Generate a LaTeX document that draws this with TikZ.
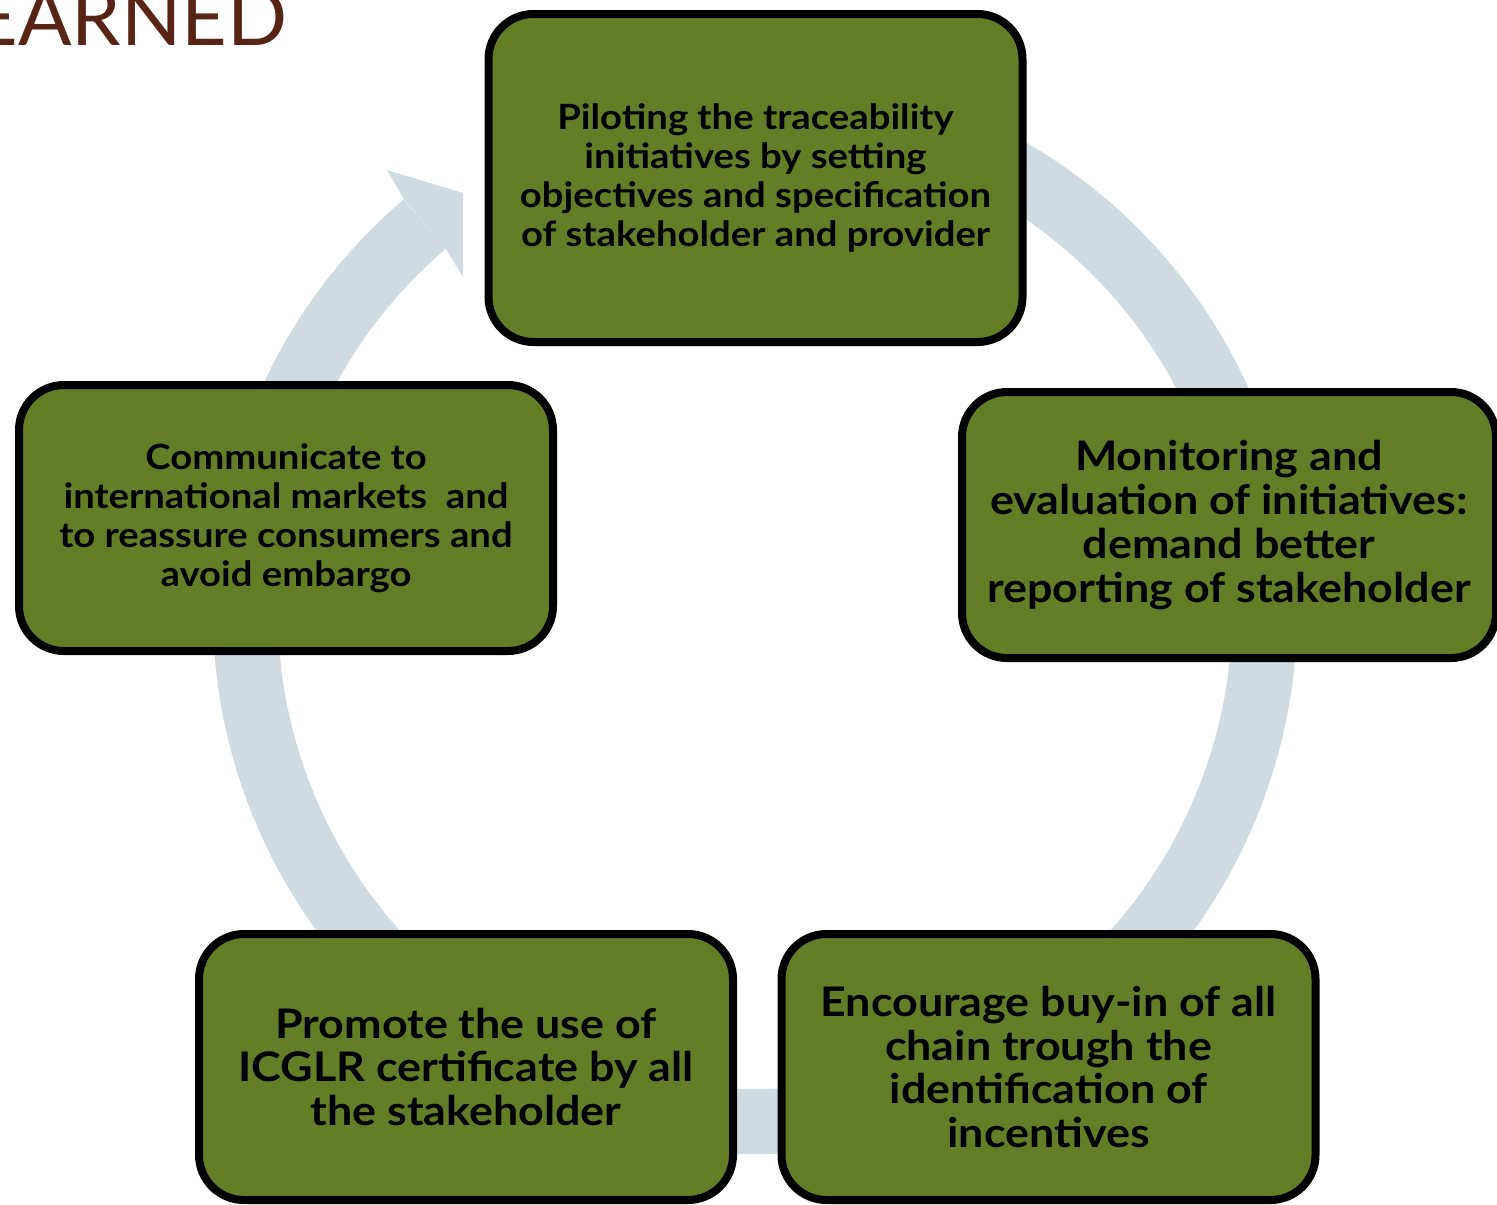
\documentclass[tikz,border=0pt]{standalone}
\usepackage{fontspec}
\setmainfont{Lato}[FakeStretch=1.1]
\newfontfamily\titlefont{Lato}
\definecolor{boxgreen}{RGB}{100,126,39}
\definecolor{ringblue}{RGB}{207,219,225}
\definecolor{titlebrown}{RGB}{88,36,22}
\tikzset{every picture/.style={x=0.1mm,y=0.1mm},
  stage/.style={draw=black,line width=0.8mm,fill=boxgreen,rounded corners=4.5mm,
    align=center,inner sep=0pt,minimum width=53.4mm,minimum height=26.6mm},
  small/.style={font=\bfseries\fontsize{9.9}{11.1}\selectfont},
  large/.style={font=\bfseries\fontsize{11.6}{12.5}\selectfont}}

\begin{document}
\begin{tikzpicture}
      \useasboundingbox (0,0) rectangle (1497,1204);

      \node[anchor=base east,inner sep=0pt,text=titlebrown,font=\titlefont\fontsize{22.5}{22.5}\selectfont] (title) at (288,1159) {LEARNED};

      % ring with arrowhead
      \coordinate (c) at (755,592);
      \draw[ringblue,line width=6.5mm] ([shift={(70:50.95mm)}]c) arc[start angle=70,end angle=-229.6,radius=50.95mm];
      \fill[ringblue] (404,1005) -- (387,1034) -- (463,1011) -- (463,927) -- (446,955) -- cycle;

      \node[stage,small,minimum height=32.8mm] (s1) at (755.5,1026){Piloting the traceability\\ initiatives by setting\\ objectives and specification\\ of stakeholder and provider};
      \node[stage,large] (s2) at (1229,679){Monitoring and\\ evaluation of initiatives:\\ demand better\\ reporting of stakeholder};
      \node[stage,large] (s3) at (1048.5,137){Encourage buy-in of all\\ chain trough the\\ identification of\\ incentives};
      \node[stage,large] (s4) at (466,137){Promote the use of\\ ICGLR certificate by all\\ the stakeholder};
      \node[stage,small] (s5) at (286,686){Communicate to\\ international markets\ \ and\\ to reassure consumers and\\ avoid embargo};
    \end{tikzpicture}
\end{document}
